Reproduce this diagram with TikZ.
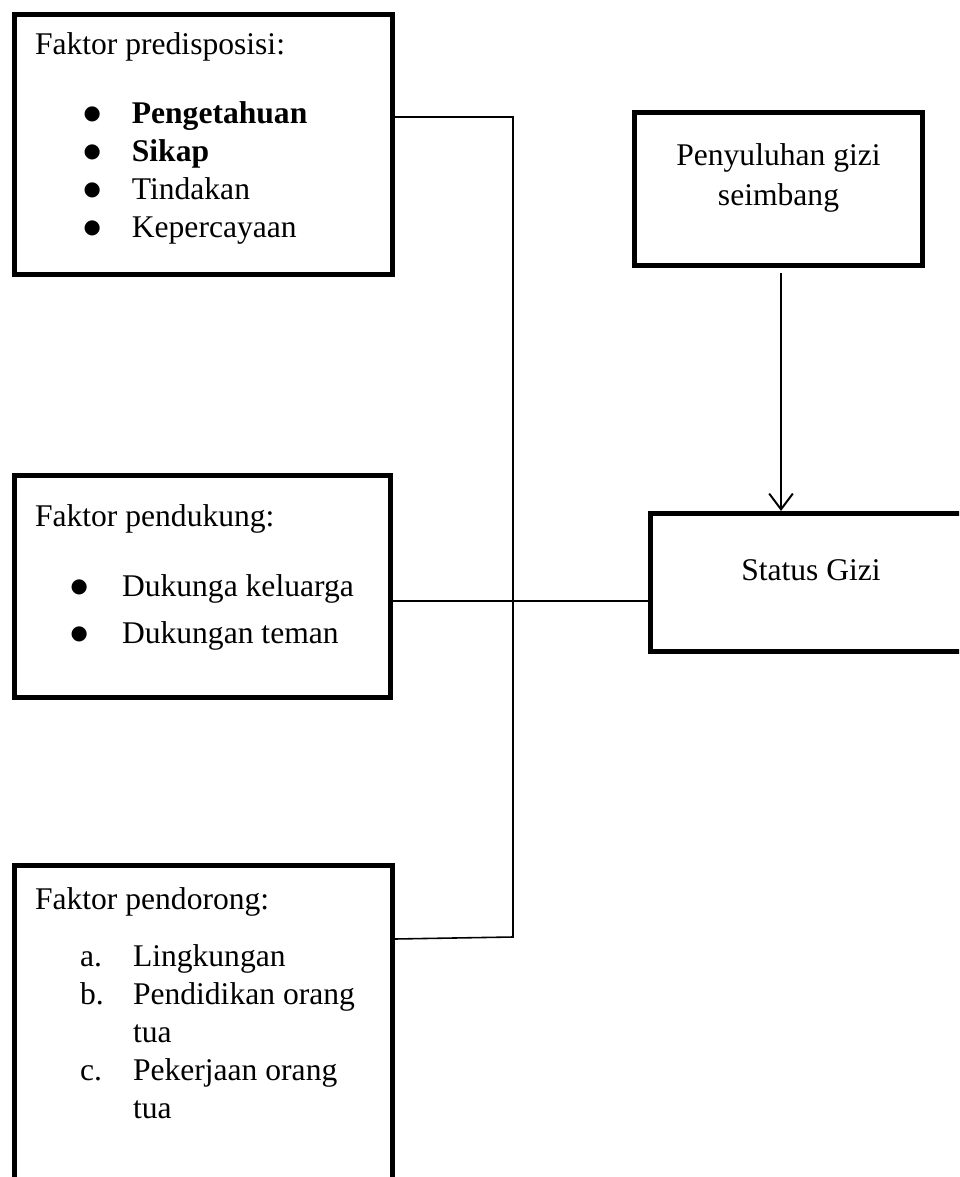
\documentclass[tikz,border=0pt]{standalone}
\usepackage{fontspec}
\setmainfont{Liberation Serif}
\newfontfamily\dejavu{DejaVu Sans}
\usetikzlibrary{arrows.meta}

% box text: width, height, top pad, lines
\newcommand{\boxtext}[4]{\parbox[t][#2][t]{#1}{\vspace*{#3}#4}}
\newcommand{\itemmark}[3]{\hspace*{#1}\makebox[#2][l]{#3}}
\newcommand{\bigbullet}{\raisebox{1.4pt}{\dejavu\fontsize{7.5}{9}\selectfont ●}}

\begin{document}
\begin{tikzpicture}[x=0.38pt,y=-0.38pt,
    font=\fontsize{12}{14.44}\selectfont,
    frame/.style={draw,line width=1.9pt,anchor=north west,inner xsep=7.8pt,inner ysep=0pt},
    link/.style={line width=0.6pt},
    arrowline/.style={line width=0.75pt,-{Straight Barb[length=6pt,width=9pt,line width=0.75pt]}}]
  \useasboundingbox (0,0) rectangle (959,1177);
  \clip (0,0) rectangle (959,1177);

  \node[frame] (predis) at (12,12) {\boxtext{128.04pt}{98.8pt}{6.8pt}{%
    Faktor predisposisi:\\[11.76pt]
    \itemmark{18.5pt}{18.3pt}{\bigbullet}\textbf{Pengetahuan}\\
    \itemmark{18.5pt}{18.3pt}{\bigbullet}\textbf{Sikap}\\
    \itemmark{18.5pt}{18.3pt}{\bigbullet}Tindakan\\
    \itemmark{18.5pt}{18.3pt}{\bigbullet}Kepercayaan}};
  \node[frame] (pendukung) at (12,473) {\boxtext{127.28pt}{84.36pt}{10.9pt}{%
    Faktor pendukung:\\[12.2pt]
    \itemmark{13.5pt}{19.56pt}{\bigbullet}Dukunga keluarga\\[3.4pt]
    \itemmark{13.5pt}{19.56pt}{\bigbullet}Dukungan teman}};
  \node[frame] (pendorong) at (12,863) {\boxtext{128.04pt}{130pt}{8.25pt}{%
    Faktor pendorong:\\[7.2pt]
    \itemmark{17.1pt}{20.14pt}{a.}Lingkungan\\
    \itemmark{17.1pt}{20.14pt}{b.}Pendidikan orang\\
    \hspace*{37.24pt}tua\\
    \itemmark{17.1pt}{20.14pt}{c.}Pekerjaan orang\\
    \hspace*{37.24pt}tua}};
  \node[frame] (penyuluhan) at (632,110) {\boxtext{93.84pt}{58.14pt}{12pt}{%
    \centering Penyuluhan gizi\\[0.76pt] seimbang}};
  \node[frame] (status) at (648,511) {\boxtext{106.38pt}{52.44pt}{17.4pt}{%
    \centering Status Gizi}};

  \coordinate (bustop) at (513,117);
  \coordinate (busmid) at (513,601);
  \coordinate (busend) at (513,937);
  \coordinate (pdlevel) at (0,939);
  \coordinate (arrowtop) at (781,273);

  \draw[link] (predis.east |- bustop) -- (bustop) -- (busend) -- (pendorong.east |- pdlevel);
  \draw[link] (pendukung.east |- busmid) -- (status.west |- busmid);
  \draw[arrowline] (arrowtop) -- (arrowtop |- status.north);
\end{tikzpicture}
\end{document}
